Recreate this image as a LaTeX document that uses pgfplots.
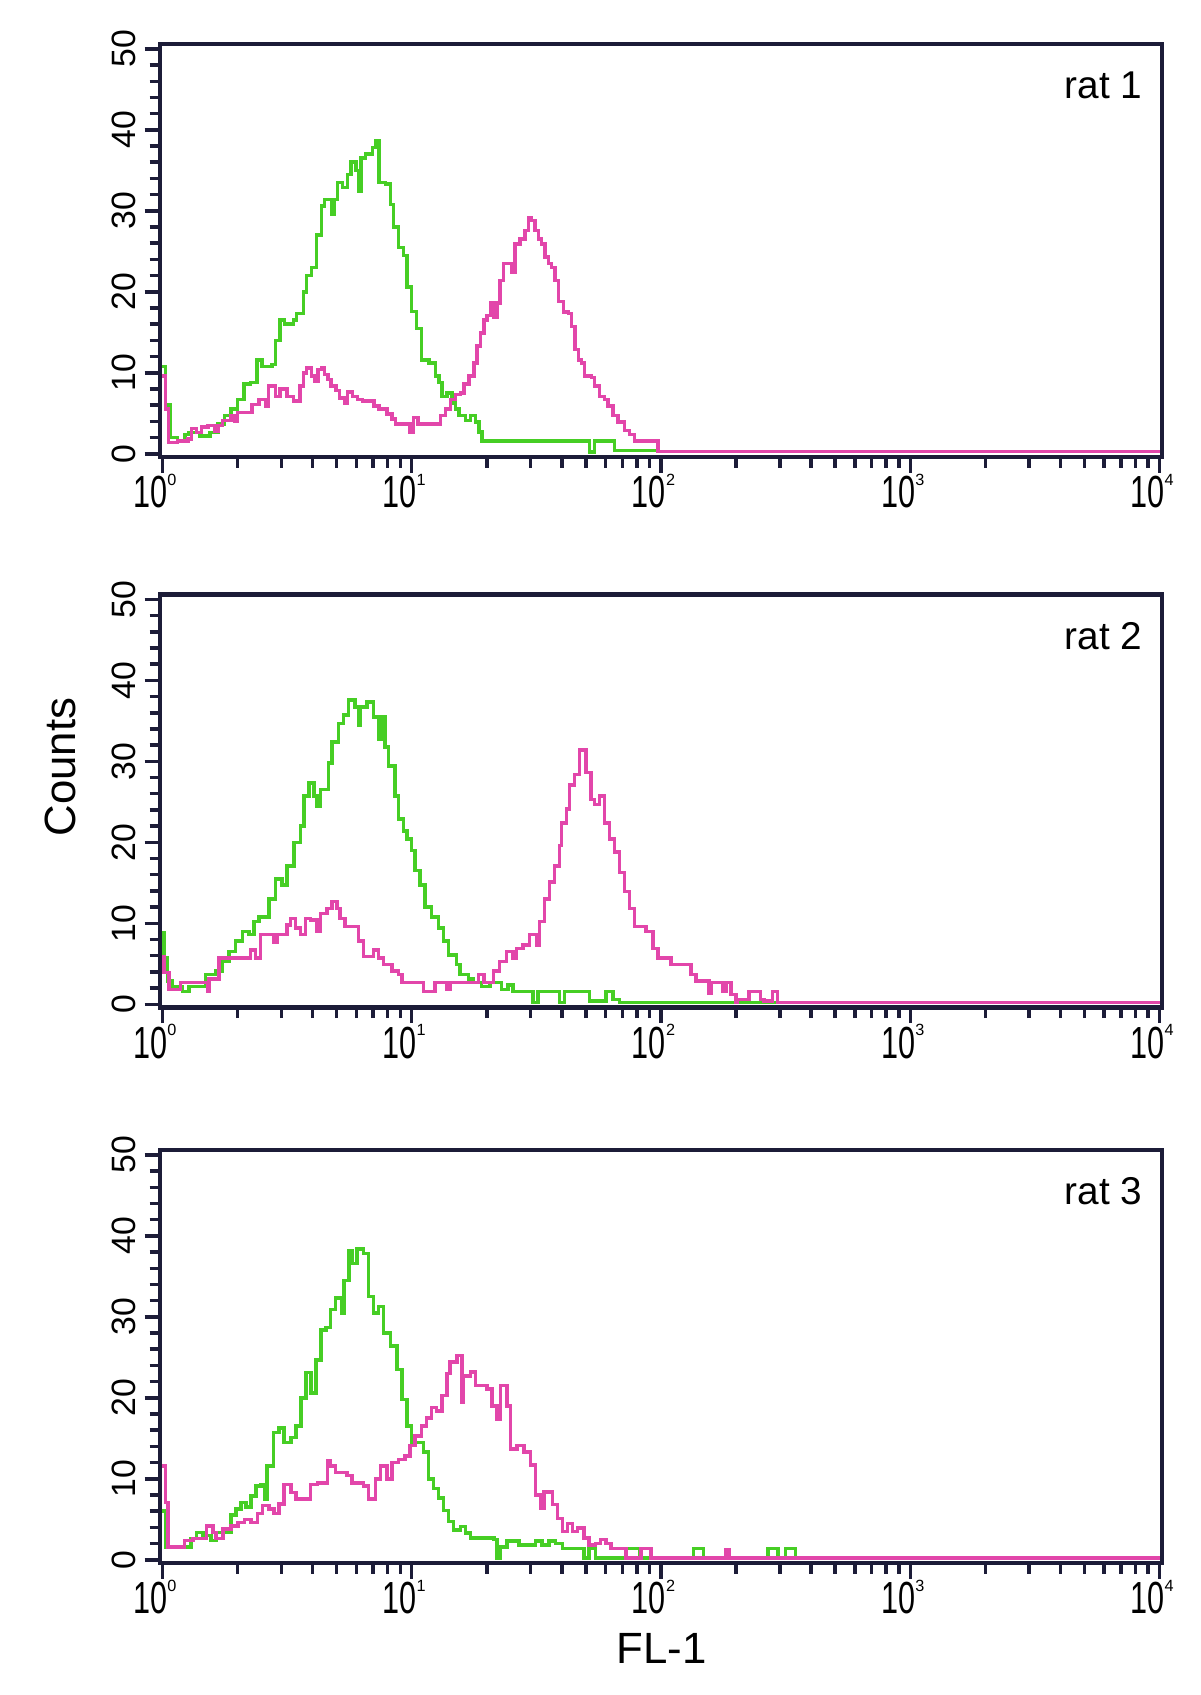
\documentclass[border=0pt]{standalone}
\usepackage{graphicx}
\usepackage{pgfplots}
\pgfplotsset{compat=1.18}
\usepackage{fontspec}
\setmainfont{Liberation Sans}
\definecolor{cgreen}{RGB}{70,206,36}
\definecolor{cpink}{RGB}{226,70,170}
\definecolor{cframe}{RGB}{28,28,56}
\newcommand{\dec}[1]{{\fontsize{18}{19}\selectfont\scalebox{0.68}[1]{10}\raisebox{0.95ex}{\fontsize{6.5}{7}\selectfont #1}}}
\pgfplotsset{facs/.style={
  scale only axis, width=400.8pt, height=165.2pt,
  xmin=-0.01, xmax=4.01, ymin=-0.4, ymax=50.6,
  axis line style={cframe, line width=1.8pt},
  xtick={0,1,2,3,4},
  xticklabels={\dec{0},\dec{1},\dec{2},\dec{3},\dec{4}},
  minor xtick={0.30103,0.47712,0.60206,0.69897,0.77815,0.84510,0.90309,0.95424,1.30103,1.47712,1.60206,1.69897,1.77815,1.84510,1.90309,1.95424,2.30103,2.47712,2.60206,2.69897,2.77815,2.84510,2.90309,2.95424,3.30103,3.47712,3.60206,3.69897,3.77815,3.84510,3.90309,3.95424},
  ytick={0,10,20,30,40,50}, minor ytick={2,4,...,48},
  tick align=outside, xtick pos=bottom, ytick pos=left,
  major tick length=6.2pt, minor tick length=4.2pt,
  every tick/.style={cframe, line width=1.4pt},
  tick label style={font=\fontsize{13.5}{14}\selectfont, text=black},
  xticklabel style={yshift=3pt, xshift=-3pt},
  yticklabel style={rotate=90, anchor=south},
  /pgf/number format/assume math mode=true,
  anchor=south west,
  every axis plot/.append style={line width=1.4pt, const plot, mark=none},
}}
\begin{document}
\begin{tikzpicture}
\path (0,0) rectangle (480pt,-678pt);
% ---------------- rat 1
\begin{axis}[facs, at={(64pt,-182.8pt)}]
\addplot[cgreen] coordinates {(0,10.8) (0.012,6) (0.03,2) (0.06,1.6) (0.09,2.4) (0.105,2.6) (0.15,2.2) (0.19,2.6) (0.222,3.7) (0.248,4.7) (0.274,5.5) (0.301,6.7) (0.327,8.6) (0.354,8.8) (0.380,11.6) (0.400,10.8) (0.440,11.0) (0.453,14) (0.472,16.5) (0.490,16) (0.525,16.5) (0.538,17.3) (0.565,20) (0.578,22) (0.598,23) (0.617,27) (0.637,30.6) (0.650,31.4) (0.680,29.6) (0.690,31.4) (0.703,33.5) (0.723,32.9) (0.743,34.5) (0.756,36) (0.776,35) (0.789,32.4) (0.796,36.5) (0.815,37) (0.842,37.8) (0.855,38.6) (0.868,33.5) (0.894,33.3) (0.914,30.8) (0.927,28) (0.947,25.5) (0.967,24.5) (0.980,20.6) (1.0,17.6) (1.020,15.5) (1.040,11.6) (1.07,11.2) (1.095,9.6) (1.109,8.8) (1.122,7.1) (1.142,7.5) (1.162,6.3) (1.176,5.5) (1.189,4.7) (1.215,4.1) (1.235,4.7) (1.255,3.9) (1.269,2.7) (1.282,1.6) (1.694,1.6) (1.714,0.2) (1.734,1.6) (1.801,1.6) (1.814,0.4) (1.987,0.25) (4.0,0.25)};
\addplot[cpink] coordinates {(0,9.6) (0.012,5.5) (0.024,1.4) (0.06,1.6) (0.103,1.8) (0.116,3.1) (0.136,2.6) (0.156,3.3) (0.182,3.5) (0.21,2.8) (0.225,3.5) (0.241,4.1) (0.274,4.7) (0.290,4.0) (0.301,5.1) (0.327,5.1) (0.360,6.1) (0.387,6.7) (0.413,5.9) (0.426,8.4) (0.453,7.1) (0.472,8) (0.499,7.1) (0.525,6.5) (0.551,8.4) (0.565,10) (0.578,10.6) (0.598,9.6) (0.611,9) (0.624,10.4) (0.637,10.6) (0.650,9.8) (0.664,9.2) (0.677,8.4) (0.697,7.8) (0.710,6.9) (0.730,6.3) (0.743,7.6) (0.763,7.1) (0.782,6.7) (0.802,6.5) (0.848,5.9) (0.868,5.5) (0.901,4.9) (0.921,4.3) (0.934,3.7) (0.980,3.7) (0.993,2.7) (1.007,4.5) (1.026,3.7) (1.109,3.7) (1.116,4.7) (1.136,5.5) (1.156,6.7) (1.176,7.3) (1.195,7.5) (1.209,8.6) (1.229,9.6) (1.249,11.2) (1.262,13.3) (1.275,14.9) (1.289,16.5) (1.302,17.1) (1.315,18.6) (1.328,16.9) (1.342,18.6) (1.355,21.4) (1.368,23.5) (1.388,23.5) (1.402,22.4) (1.415,25.9) (1.435,26.5) (1.455,27.6) (1.468,29.2) (1.481,28.8) (1.495,27.6) (1.508,26.5) (1.521,25.9) (1.535,24.3) (1.548,23.5) (1.561,23) (1.574,21.4) (1.588,18.8) (1.608,17.5) (1.628,17.3) (1.641,15.7) (1.654,12.9) (1.668,11.6) (1.681,11.2) (1.694,9.6) (1.721,9.4) (1.734,8.4) (1.754,7.1) (1.774,6.7) (1.787,5.9) (1.807,4.7) (1.827,3.9) (1.854,2.9) (1.874,2.4) (1.894,1.6) (1.987,0.25) (4.0,0.25)};
\node[anchor=east, inner sep=0pt, font=\fontsize{15.5}{18}\selectfont] at (rel axis cs:0.981,0.9) {rat 1};
\end{axis}
% ---------------- rat 2
\begin{axis}[facs, at={(64pt,-403pt)}]
\addplot[cgreen] coordinates {(0,8.8) (0.007,5.7) (0.02,2.9) (0.04,2.2) (0.08,1.6) (0.107,2.2) (0.173,3.7) (0.213,4.1) (0.24,5.3) (0.267,6.5) (0.293,7.8) (0.32,9) (0.347,8.6) (0.367,10.2) (0.387,10.8) (0.427,13) (0.453,15.5) (0.48,14.7) (0.50,17.1) (0.527,20) (0.553,22) (0.567,25.7) (0.587,27.3) (0.607,25.7) (0.62,24.5) (0.633,26.5) (0.667,29.8) (0.68,32.4) (0.707,34.7) (0.727,35.7) (0.747,37.6) (0.773,36.7) (0.787,34.5) (0.793,36.7) (0.82,37.3) (0.847,35.5) (0.867,32.7) (0.88,35.5) (0.893,31.8) (0.907,29.4) (0.933,25.7) (0.947,22.9) (0.967,21.4) (0.98,20.4) (1.0,19) (1.013,16.5) (1.033,14.7) (1.053,12) (1.08,10.8) (1.107,9.4) (1.127,7.8) (1.147,6.1) (1.18,4.9) (1.193,3.7) (1.227,3.1) (1.247,2.7) (1.28,2.2) (1.313,2.7) (1.36,1.8) (1.387,2.4) (1.407,1.6) (1.487,0.2) (1.507,1.6) (1.593,0.2) (1.613,1.6) (1.713,0.4) (1.78,1.6) (1.807,0.6) (1.833,0.25) (4,0.25)};
\addplot[cpink] coordinates {(0,5.9) (0.007,3.9) (0.027,1.8) (0.073,2.7) (0.18,1.6) (0.187,3.1) (0.227,5.7) (0.353,6.7) (0.373,5.7) (0.393,8.6) (0.447,7.6) (0.46,8.6) (0.5,9.8) (0.513,10.6) (0.533,9.4) (0.553,8.6) (0.573,10.6) (0.593,10.4) (0.62,9) (0.633,11.2) (0.66,11.8) (0.68,12.7) (0.70,11.8) (0.713,10.6) (0.733,9.6) (0.787,7.8) (0.807,5.9) (0.847,6.7) (0.867,5.7) (0.887,4.9) (0.92,4.1) (0.947,3.7) (0.96,2.7) (1.047,1.6) (1.093,2.7) (1.14,1.8) (1.153,2.7) (1.267,3.7) (1.29,2.7) (1.327,4.1) (1.353,5.3) (1.38,6.5) (1.407,5.7) (1.42,6.9) (1.447,7.3) (1.473,8.6) (1.50,7.3) (1.513,10.2) (1.533,13) (1.553,15.1) (1.573,17.1) (1.593,19.6) (1.60,22.4) (1.62,24.1) (1.633,27.1) (1.653,28.4) (1.673,31.4) (1.70,28.6) (1.72,25.3) (1.733,24.7) (1.753,25.7) (1.773,22.4) (1.793,20.4) (1.813,18.8) (1.833,16.3) (1.853,13.9) (1.873,11.8) (1.893,9.6) (1.94,9.0) (1.967,6.9) (1.987,5.7) (2.04,4.9) (2.12,3.7) (2.14,2.9) (2.193,1.4) (2.2,2.7) (2.247,1.6) (2.26,2.7) (2.28,1.2) (2.3,0.25) (2.307,0.6) (2.353,1.6) (2.4,0.6) (2.413,0.4) (2.447,1.6) (2.467,0.25) (4,0.25)};
\node[anchor=east, inner sep=0pt, font=\fontsize{15.5}{18}\selectfont] at (rel axis cs:0.981,0.9) {rat 2};
\end{axis}
% ---------------- rat 3
\begin{axis}[facs, at={(64pt,-625.2pt)}]
\addplot[cgreen] coordinates {(0,6) (0.015,1.6) (0.115,2.6) (0.136,3.4) (0.162,3.0) (0.195,2.4) (0.215,3.4) (0.275,5.5) (0.295,6.3) (0.315,7.1) (0.335,6.5) (0.355,7.9) (0.375,9.1) (0.395,9.3) (0.41,7.5) (0.42,11.6) (0.445,15.7) (0.468,16.3) (0.488,14.5) (0.515,15.1) (0.535,16.5) (0.555,20) (0.575,23.1) (0.595,20.6) (0.615,24.7) (0.635,28.4) (0.655,28.7) (0.675,30.9) (0.695,32.3) (0.72,30.5) (0.728,34.5) (0.748,38.2) (0.762,36.6) (0.78,38.4) (0.807,37.8) (0.827,32.5) (0.847,30.5) (0.867,31.3) (0.887,28) (0.914,26.4) (0.94,23.5) (0.96,19.8) (0.98,16.5) (1.0,14.5) (1.047,13.3) (1.067,10) (1.087,8.8) (1.107,7.6) (1.128,6.1) (1.148,4.7) (1.168,3.7) (1.195,4.1) (1.215,3.3) (1.235,2.7) (1.33,2.5) (1.342,0.2) (1.356,1.6) (1.383,2.3) (1.43,1.8) (1.497,2.3) (1.523,1.8) (1.55,2.3) (1.577,2) (1.604,1.4) (1.691,0.2) (1.711,1.4) (1.738,0.25) (1.859,1.4) (1.913,0.25) (2.13,1.4) (2.17,0.25) (2.43,1.4) (2.47,0.25) (2.50,1.4) (2.54,0.25) (4,0.25)};
\addplot[cpink] coordinates {(0,11.6) (0.012,7.1) (0.023,1.6) (0.089,2.4) (0.122,2.6) (0.176,4.2) (0.202,3.4) (0.215,2.6) (0.242,3.8) (0.275,4.2) (0.302,4.6) (0.328,5) (0.355,4.6) (0.382,5.7) (0.402,6.7) (0.428,6.3) (0.448,5.7) (0.468,6.9) (0.488,9.3) (0.515,8.3) (0.535,7.5) (0.594,9.3) (0.621,9.5) (0.661,12.2) (0.674,11.6) (0.694,10.8) (0.741,10.4) (0.761,9.5) (0.807,9.1) (0.827,7.5) (0.854,10) (0.874,11.6) (0.90,10) (0.92,12) (0.947,12.4) (0.973,12.8) (0.993,14.1) (1.013,15.3) (1.04,16.5) (1.06,17.5) (1.08,18.8) (1.10,18.4) (1.121,20.3) (1.141,23) (1.154,24.4) (1.181,25.2) (1.201,19.5) (1.208,22.7) (1.235,23.2) (1.255,21.5) (1.302,21.1) (1.322,19) (1.342,17.4) (1.356,21.5) (1.383,19) (1.396,13.7) (1.423,14.1) (1.45,13.3) (1.477,11.7) (1.497,8) (1.517,6.4) (1.53,8.4) (1.564,6.8) (1.584,5.1) (1.604,3.5) (1.624,4.5) (1.644,3.5) (1.664,3.9) (1.691,2.7) (1.711,1.8) (1.738,2) (1.758,2.5) (1.779,2) (1.799,1.4) (1.859,0.25) (1.919,1.4) (1.96,0.25) (2.26,1.2) (2.275,0.25) (4,0.25)};
\node[anchor=east, inner sep=0pt, font=\fontsize{15.5}{18}\selectfont] at (rel axis cs:0.981,0.9) {rat 3};
\end{axis}
\node[rotate=90, font=\fontsize{17.5}{20}\selectfont] at (24pt,-306.8pt) {Counts};
\node[font=\fontsize{17.5}{20}\selectfont] at (264.6pt,-659.4pt) {FL-1};
\end{tikzpicture}
\end{document}
